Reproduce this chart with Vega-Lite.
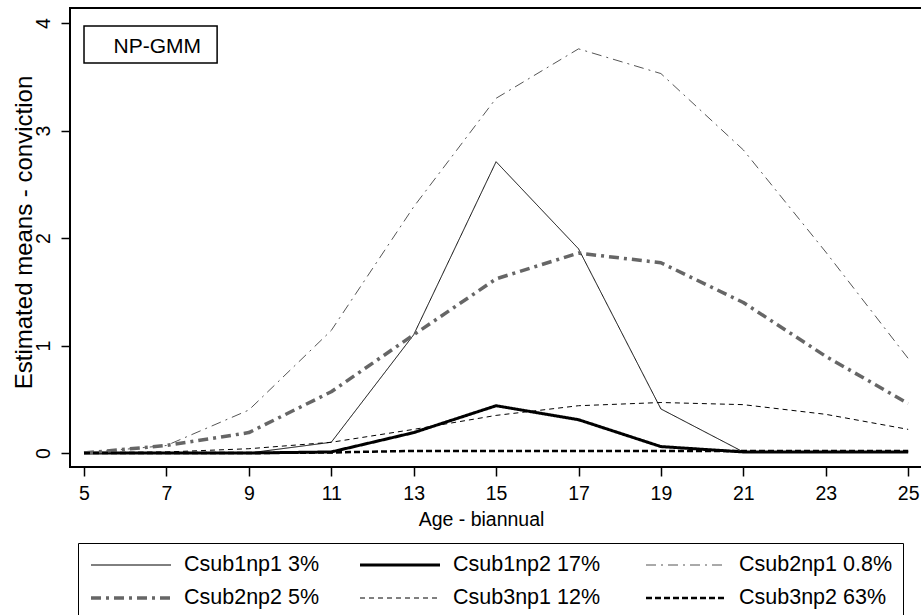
{
  "$schema": "https://vega.github.io/schema/vega-lite/v6.json",
  "width": 853,
  "height": 459,
  "autosize": {"type": "none"},
  "padding": {"left": 70, "top": 8, "right": 0, "bottom": 148},
  "background": "white",
  "config": {
    "font": "Liberation Sans",
    "view": {"stroke": "black", "strokeWidth": 2},
    "axis": {"grid": false, "domain": false, "tickColor": "black", "tickWidth": 1.5, "tickSize": 9, "labelColor": "black", "titleColor": "black", "titleFontWeight": "normal", "labelFont": "Liberation Sans", "titleFont": "Liberation Sans"}
  },
  "data": {
    "values": [
      {"age": 5, "value": 0, "series": "Csub1np1 3%"},
      {"age": 7, "value": 0, "series": "Csub1np1 3%"},
      {"age": 9, "value": 0, "series": "Csub1np1 3%"},
      {"age": 11, "value": 0.1, "series": "Csub1np1 3%"},
      {"age": 13, "value": 1.1, "series": "Csub1np1 3%"},
      {"age": 15, "value": 2.71, "series": "Csub1np1 3%"},
      {"age": 17, "value": 1.9, "series": "Csub1np1 3%"},
      {"age": 19, "value": 0.41, "series": "Csub1np1 3%"},
      {"age": 21, "value": 0.01, "series": "Csub1np1 3%"},
      {"age": 23, "value": 0.01, "series": "Csub1np1 3%"},
      {"age": 25, "value": 0.01, "series": "Csub1np1 3%"},
      {"age": 5, "value": 0, "series": "Csub1np2  17%"},
      {"age": 7, "value": 0, "series": "Csub1np2  17%"},
      {"age": 9, "value": 0, "series": "Csub1np2  17%"},
      {"age": 11, "value": 0.01, "series": "Csub1np2  17%"},
      {"age": 13, "value": 0.19, "series": "Csub1np2  17%"},
      {"age": 15, "value": 0.44, "series": "Csub1np2  17%"},
      {"age": 17, "value": 0.31, "series": "Csub1np2  17%"},
      {"age": 19, "value": 0.06, "series": "Csub1np2  17%"},
      {"age": 21, "value": 0.01, "series": "Csub1np2  17%"},
      {"age": 23, "value": 0.01, "series": "Csub1np2  17%"},
      {"age": 25, "value": 0.01, "series": "Csub1np2  17%"},
      {"age": 5, "value": 0, "series": "Csub2np1 0.8%"},
      {"age": 7, "value": 0.07, "series": "Csub2np1 0.8%"},
      {"age": 9, "value": 0.4, "series": "Csub2np1 0.8%"},
      {"age": 11, "value": 1.14, "series": "Csub2np1 0.8%"},
      {"age": 13, "value": 2.29, "series": "Csub2np1 0.8%"},
      {"age": 15, "value": 3.3, "series": "Csub2np1 0.8%"},
      {"age": 17, "value": 3.76, "series": "Csub2np1 0.8%"},
      {"age": 19, "value": 3.53, "series": "Csub2np1 0.8%"},
      {"age": 21, "value": 2.82, "series": "Csub2np1 0.8%"},
      {"age": 23, "value": 1.87, "series": "Csub2np1 0.8%"},
      {"age": 25, "value": 0.88, "series": "Csub2np1 0.8%"},
      {"age": 5, "value": 0, "series": "Csub2np2 5%"},
      {"age": 7, "value": 0.07, "series": "Csub2np2 5%"},
      {"age": 9, "value": 0.19, "series": "Csub2np2 5%"},
      {"age": 11, "value": 0.57, "series": "Csub2np2 5%"},
      {"age": 13, "value": 1.1, "series": "Csub2np2 5%"},
      {"age": 15, "value": 1.62, "series": "Csub2np2 5%"},
      {"age": 17, "value": 1.86, "series": "Csub2np2 5%"},
      {"age": 19, "value": 1.77, "series": "Csub2np2 5%"},
      {"age": 21, "value": 1.4, "series": "Csub2np2 5%"},
      {"age": 23, "value": 0.9, "series": "Csub2np2 5%"},
      {"age": 25, "value": 0.46, "series": "Csub2np2 5%"},
      {"age": 5, "value": 0, "series": "Csub3np1 12%"},
      {"age": 7, "value": 0.01, "series": "Csub3np1 12%"},
      {"age": 9, "value": 0.04, "series": "Csub3np1 12%"},
      {"age": 11, "value": 0.1, "series": "Csub3np1 12%"},
      {"age": 13, "value": 0.22, "series": "Csub3np1 12%"},
      {"age": 15, "value": 0.35, "series": "Csub3np1 12%"},
      {"age": 17, "value": 0.44, "series": "Csub3np1 12%"},
      {"age": 19, "value": 0.47, "series": "Csub3np1 12%"},
      {"age": 21, "value": 0.45, "series": "Csub3np1 12%"},
      {"age": 23, "value": 0.36, "series": "Csub3np1 12%"},
      {"age": 25, "value": 0.22, "series": "Csub3np1 12%"},
      {"age": 5, "value": 0, "series": "Csub3np2 63%"},
      {"age": 7, "value": 0, "series": "Csub3np2 63%"},
      {"age": 9, "value": 0, "series": "Csub3np2 63%"},
      {"age": 11, "value": 0.005, "series": "Csub3np2 63%"},
      {"age": 13, "value": 0.02, "series": "Csub3np2 63%"},
      {"age": 15, "value": 0.02, "series": "Csub3np2 63%"},
      {"age": 17, "value": 0.02, "series": "Csub3np2 63%"},
      {"age": 19, "value": 0.02, "series": "Csub3np2 63%"},
      {"age": 21, "value": 0.02, "series": "Csub3np2 63%"},
      {"age": 23, "value": 0.02, "series": "Csub3np2 63%"},
      {"age": 25, "value": 0.02, "series": "Csub3np2 63%"}
    ]
  },
  "layer": [
    {
      "mark": {"type": "line", "strokeCap": "butt", "strokeJoin": "round"},
      "encoding": {
        "x": {
          "field": "age", "type": "quantitative",
          "scale": {"domain": [4.66, 25.36], "nice": false, "zero": false},
          "axis": {"values": [5, 7, 9, 11, 13, 15, 17, 19, 21, 23, 25], "format": "d", "title": "Age - biannual", "labelFontSize": 19.5, "labelPadding": 8, "labelBaseline": "top", "labelFlush": false, "titleFontSize": 19.5, "titleX": 411, "titleY": 58, "titleAlign": "center", "titleBaseline": "alphabetic", "titleAnchor": null}
        },
        "y": {
          "field": "value", "type": "quantitative",
          "scale": {"domain": [-0.13, 4.14], "nice": false, "zero": false},
          "axis": {"values": [0, 1, 2, 3, 4], "format": "d", "title": "Estimated means - conviction", "labelAngle": 270, "labelAlign": "center", "labelBaseline": "alphabetic", "labelPadding": 12, "labelFontSize": 19.5, "labelFlush": false, "titleFontSize": 24, "titleAngle": 270, "titleX": -39, "titleY": 224, "titleAlign": "center", "titleBaseline": "alphabetic"}
        },
        "color": {
          "field": "series", "type": "nominal",
          "scale": {"domain": ["Csub1np1 3%", "Csub1np2  17%", "Csub2np1 0.8%", "Csub2np2 5%", "Csub3np1 12%", "Csub3np2 63%"], "range": ["#000000", "#000000", "#555555", "#666666", "#000000", "#000000"]},
          "legend": {"orient": "none", "legendX": 8, "legendY": 535, "direction": "horizontal", "columns": 3, "title": null, "symbolType": "stroke", "symbolSize": 6400, "clipHeight": 22, "labelFontSize": 21.5, "labelFont": "Liberation Sans", "labelColor": "black", "labelOffset": 11, "labelLimit": 300, "columnPadding": 38, "rowPadding": 11, "padding": 11, "strokeColor": "black"}
        },
        "strokeDash": {
          "field": "series", "type": "nominal",
          "scale": {"domain": ["Csub1np1 3%", "Csub1np2  17%", "Csub2np1 0.8%", "Csub2np2 5%", "Csub3np1 12%", "Csub3np2 63%"], "range": [[1, 0], [1, 0], [10, 5, 2, 5], [10, 5, 3, 5], [5, 4], [6, 3]]},
          "legend": {"orient": "none", "legendX": 8, "legendY": 535, "direction": "horizontal", "columns": 3, "title": null, "symbolType": "stroke", "symbolSize": 6400, "clipHeight": 22, "labelFontSize": 21.5, "labelFont": "Liberation Sans", "labelColor": "black", "labelOffset": 11, "labelLimit": 300, "columnPadding": 38, "rowPadding": 11, "padding": 11, "strokeColor": "black"}
        },
        "strokeWidth": {
          "field": "series", "type": "nominal",
          "scale": {"type": "ordinal", "domain": ["Csub1np1 3%", "Csub1np2  17%", "Csub2np1 0.8%", "Csub2np2 5%", "Csub3np1 12%", "Csub3np2 63%"], "range": [1, 3, 1, 3.5, 1, 2.5]},
          "legend": {"orient": "none", "legendX": 8, "legendY": 535, "direction": "horizontal", "columns": 3, "title": null, "symbolType": "stroke", "symbolSize": 6400, "clipHeight": 22, "labelFontSize": 21.5, "labelFont": "Liberation Sans", "labelColor": "black", "labelOffset": 11, "labelLimit": 300, "columnPadding": 38, "rowPadding": 11, "padding": 11, "strokeColor": "black"}
        }
      }
    },
    {
      "data": {"values": [{"label": "NP-GMM"}]},
      "mark": {"type": "rect", "fill": "white", "stroke": "black", "strokeWidth": 1.5},
      "encoding": {
        "x": {"datum": 5.0, "type": "quantitative"},
        "x2": {"datum": 8.23},
        "y": {"datum": 3.973, "type": "quantitative"},
        "y2": {"datum": 3.628}
      }
    },
    {
      "data": {"values": [{"label": "NP-GMM"}]},
      "mark": {"type": "text", "fontSize": 21, "font": "Liberation Sans", "fontWeight": "normal", "fill": "black", "align": "center", "baseline": "alphabetic"},
      "encoding": {
        "x": {"datum": 6.78, "type": "quantitative"},
        "y": {"datum": 3.721, "type": "quantitative"},
        "text": {"field": "label", "type": "nominal"}
      }
    }
  ]
}
